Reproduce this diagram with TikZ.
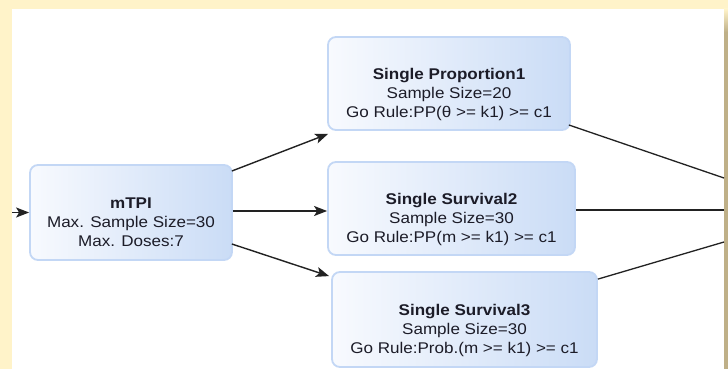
\documentclass[tikz,border=0pt]{standalone}
\usepackage{fontspec}
\setmainfont{Liberation Sans}[FakeStretch=1.1]
\usetikzlibrary{arrows.meta,calc}
\definecolor{bgyellow}{HTML}{FFF3C9}
\definecolor{tanstrip}{HTML}{BFB088}
\definecolor{boxline}{HTML}{C3D7F5}
\definecolor{boxleft}{HTML}{F8FAFE}
\definecolor{boxright}{HTML}{CADCF6}
\definecolor{txt}{HTML}{1C1C28}
\definecolor{arrowc}{HTML}{222222}
\begin{document}
\begin{tikzpicture}[x=1pt,y=-1pt,
  flowbox/.style={rectangle, rounded corners=8pt, draw=boxline, line width=1.8pt, left color=boxleft, right color=boxright, inner sep=0pt},
  ttl/.style={anchor=base, font=\fontsize{15.5}{19}\selectfont\bfseries, text=txt, inner sep=0pt},
  ln/.style={anchor=base, font=\fontsize{15.5}{19}\selectfont, text=txt, inner sep=0pt},
  arr/.style={draw=arrowc, line width=1.4pt, -{Stealth[length=13pt,width=10pt,inset=3pt]}},
  wire/.style={draw=arrowc, line width=1.3pt}]
\useasboundingbox (0,0) rectangle (728,369);
\fill[bgyellow] (0,0) rectangle (728,369);
\fill[white] (12,9) rectangle (724,369);
\shade[top color=bgyellow,bottom color=tanstrip] (724,9) rectangle (728,32);
\fill[tanstrip] (724,32) rectangle (728,369);

% boxes
\node[flowbox, minimum width=202pt, minimum height=95pt] (m) at (131,212.5) {};
\node[flowbox, minimum width=242pt, minimum height=93pt] (p1) at (449,83.5) {};
\node[flowbox, minimum width=247pt, minimum height=93pt] (s2) at (451.5,208.5) {};
\node[flowbox, minimum width=265pt, minimum height=95pt] (s3) at (464.5,319.5) {};

% texts
\node[ttl] (mt) at ($(m.center)+(0,-4.5)$) {mTPI};
\node[ln] (m1) at ($(m.center)+(0,14.5)$) {Max. Sample Size=30};
\node[ln] (m2) at ($(m.center)+(0,34)$) {Max. Doses:7};

\node[ttl] (p1t) at ($(p1.center)+(0,-4.5)$) {Single Proportion1};
\node[ln] (p1a) at ($(p1.center)+(0,14.5)$) {Sample Size=20};
\node[ln] (p1b) at ($(p1.center)+(0,34)$) {Go Rule:PP(θ >= k1) >= c1};

\node[ttl] (s2t) at ($(s2.center)+(0,-4.5)$) {Single Survival2};
\node[ln] (s2a) at ($(s2.center)+(0,14.5)$) {Sample Size=30};
\node[ln] (s2b) at ($(s2.center)+(0,34)$) {Go Rule:PP(m >= k1) >= c1};

\node[ttl] (s3t) at ($(s3.center)+(0,-4.5)$) {Single Survival3};
\node[ln] (s3a) at ($(s3.center)+(0,14.5)$) {Sample Size=30};
\node[ln] (s3b) at ($(s3.center)+(0,34)$) {Go Rule:Prob.(m >= k1) >= c1};

% free ends
\coordinate (in) at (12,212.5);
\coordinate (o1) at (724,178);
\coordinate (o2) at (724,210);
\coordinate (o3) at (724,242);

% connectors
\draw[arr] (in) -- (m.west);
\draw[arr] ($(m.east)+(-1,-41.5)$) -- ($(p1.south west)+(1,3)$);
\draw[arr] ($(m.east)+(0,-1.5)$) -- ($(s2.west)+(0,2.5)$);
\draw[arr] ($(m.east)+(-1,31.5)$) -- ($(s3.north west)+(-2,5)$);
\draw[wire] ($(p1.east)+(-2,41.5)$) -- (o1);
\draw[wire] ($(s2.east)+(0,1.5)$) -- (o2);
\draw[wire] ($(s3.north east)+(0,8)$) -- (o3);
\end{tikzpicture}
\end{document}
